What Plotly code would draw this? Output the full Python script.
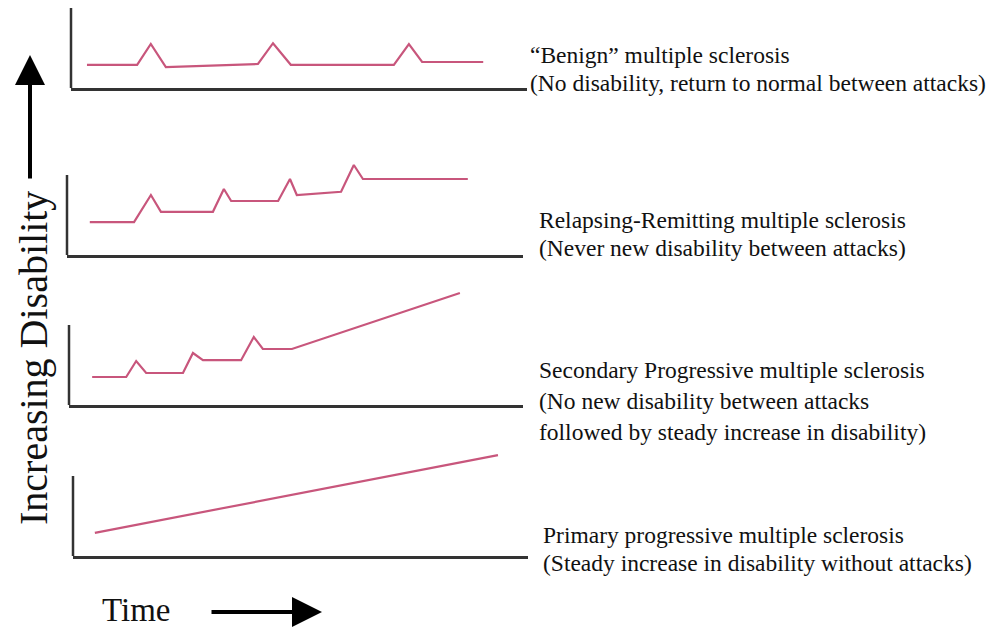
import plotly.graph_objects as go

# ---- data (time in % of panel width, disability in arbitrary units) ----
benign_t = [3.5, 14.5, 17.5, 20.8, 41.0, 44.3, 48.2, 70.8, 74.1, 77.0, 90.4]
benign_d = [2.9, 2.9, 5.5, 2.6, 3.0, 5.6, 2.9, 2.9, 5.5, 3.25, 3.25]

rr_t = [5.0, 14.7, 18.4, 20.6, 32.0, 34.4, 36.0, 46.3, 48.9, 50.4, 60.1, 62.9, 64.9, 87.9]
rr_d = [4.1, 4.1, 7.5, 5.4, 5.4, 8.25, 6.75, 6.75, 9.5, 7.5, 7.9, 11.25, 9.5, 9.5]

sp_t = [5.1, 12.6, 14.8, 17.0, 25.1, 27.3, 29.5, 37.9, 40.7, 42.7, 49.1, 86.1]
sp_d = [3.5, 3.5, 5.5, 4.0, 4.0, 6.5, 5.6, 5.6, 8.5, 7.0, 7.0, 14.0]

pp_t = [4.8, 93.4]
pp_d = [2.9, 12.6]

titles = [
    ["\u201cBenign\u201d multiple sclerosis",
     "(No disability, return to normal between attacks)"],
    ["Relapsing-Remitting multiple sclerosis",
     "(Never new disability between attacks)"],
    ["Secondary Progressive multiple sclerosis",
     "(No new disability between attacks",
     "followed by steady increase in disability)"],
    ["Primary progressive multiple sclerosis",
     "(Steady increase in disability without attacks)"],
]
y_label = "Increasing Disability"
x_label = "Time"

# ---- layout geometry (pixels in the 998x630 window; page has 8px body margin) ----
OFF = 8
W, H = 998 - OFF, 630 - OFF
LINE = "#c8567c"
AX = "#333333"
FONT = "Liberation Serif"


def px(v):
    return (v - OFF) / W


def py(v):
    return 1 - (v - OFF) / H


panels = [
    dict(x0=71, x1=527, bottom=88, top=8, t=benign_t, d=benign_d),
    dict(x0=67, x1=523, bottom=255, top=160, t=rr_t, d=rr_d),
    dict(x0=69, x1=523, bottom=405, top=285, t=sp_t, d=sp_d),
    dict(x0=73, x1=528, bottom=556, top=445, t=pp_t, d=pp_d),
]
text_pos = [
    (528, [55, 83]),
    (537, [220, 248]),
    (537, [370, 401, 432]),
    (541, [535, 563]),
]

fig = go.Figure()
layout = dict(
    width=W, height=H,
    margin=dict(l=0, r=0, t=0, b=0),
    paper_bgcolor="white", plot_bgcolor="white",
    showlegend=False,
    annotations=[], shapes=[],
)

for i, p in enumerate(panels):
    n = "" if i == 0 else str(i + 1)
    xa, ya = "x" + n, "y" + n
    fig.add_trace(go.Scatter(
        x=p["t"], y=p["d"], mode="lines", xaxis=xa, yaxis=ya,
        line=dict(color=LINE, width=2.2), hoverinfo="skip"))
    yr = (p["bottom"] - p["top"]) / 8.0
    layout["xaxis" + n] = dict(
        domain=[px(p["x0"]), px(p["x1"])], range=[0, 100],
        anchor=ya, showline=True, linecolor=AX, linewidth=2.5,
        showgrid=False, zeroline=False, showticklabels=False, ticks="",
        fixedrange=True)
    layout["yaxis" + n] = dict(
        domain=[py(p["bottom"]), py(p["top"])], range=[0, yr],
        anchor=xa, showline=False, showgrid=False, zeroline=False,
        showticklabels=False, ticks="", fixedrange=True)
    layout["shapes"].append(dict(
        type="line", xref=xa + " domain", yref=ya,
        x0=0, x1=0, y0=0, y1=10,
        line=dict(color=AX, width=2.5)))

for (tx, ys), lines in zip(text_pos, titles):
    for yy, s in zip(ys, lines):
        layout["annotations"].append(dict(
            text=s, x=px(tx), y=py(yy), xref="paper", yref="paper",
            xanchor="left", yanchor="middle", showarrow=False,
            font=dict(family=FONT, size=23.5, color="#111111")))

# axis titles
layout["annotations"].append(dict(
    text=y_label, x=px(33), y=py(358), xref="paper", yref="paper",
    xanchor="center", yanchor="middle", showarrow=False, textangle=-90,
    font=dict(family=FONT, size=40, color="#111111")))
layout["annotations"].append(dict(
    text=x_label, x=px(100), y=py(610), xref="paper", yref="paper",
    xanchor="left", yanchor="middle", showarrow=False,
    font=dict(family=FONT, size=33, color="#111111")))

# arrows
layout["annotations"].append(dict(
    text="", x=px(30), y=py(55), xref="paper", yref="paper",
    showarrow=True, ax=0, ay=125, arrowhead=2, arrowsize=1.5,
    arrowwidth=4, arrowcolor="black", standoff=0))
layout["annotations"].append(dict(
    text="", x=px(322), y=py(612), xref="paper", yref="paper",
    showarrow=True, ax=-112, ay=0, arrowhead=2, arrowsize=1.5,
    arrowwidth=4, arrowcolor="black", standoff=0))

fig.update_layout(**layout)
fig.write_html("out.html")
